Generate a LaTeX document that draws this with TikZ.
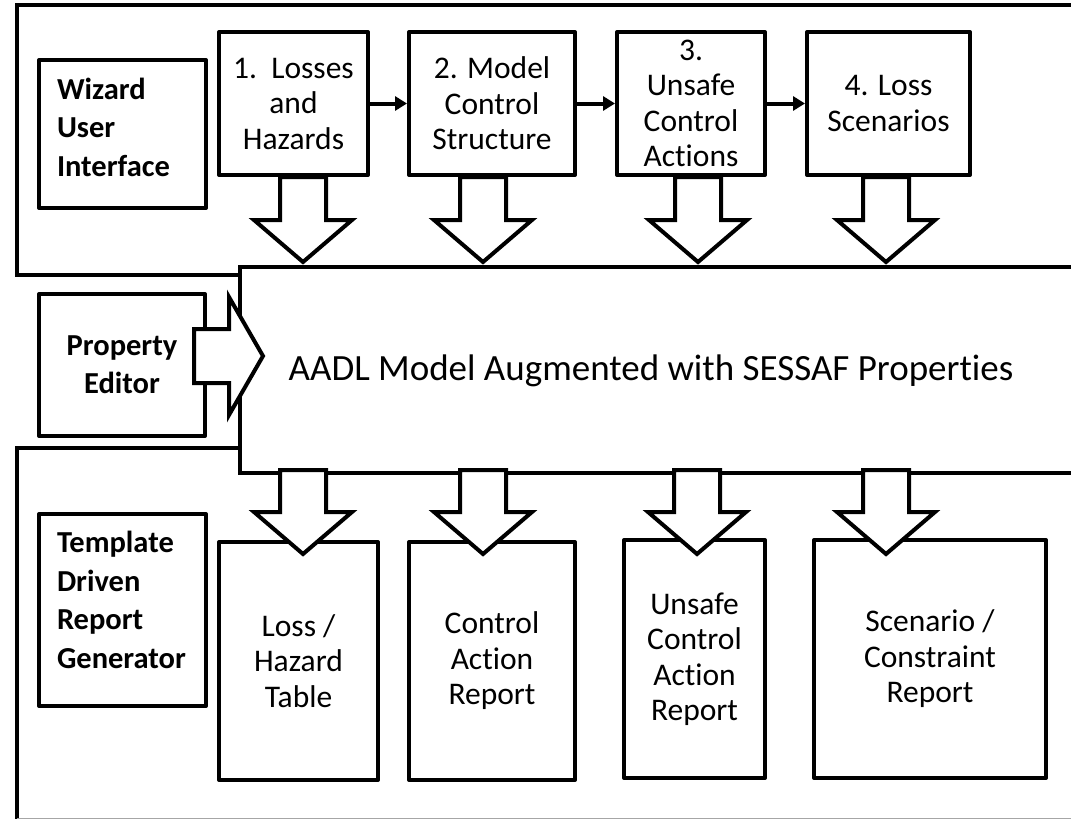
\documentclass[tikz,border=0pt]{standalone}
\usepackage{fontspec}
\setmainfont[Ligatures={NoCommon}]{Carlito}
\usetikzlibrary{arrows.meta,calc}
\newcommand{\blkdn}[2]{%
  \draw[blkarrow] let \p1=(#1), \p2=(#2) in
   (\x2-23pt,\y1) -- (\x2-23pt,\y2+42pt) -- (\x2-49pt,\y2+42pt) -- (\x2,\y2)
   -- (\x2+49pt,\y2+42pt) -- (\x2+23pt,\y2+42pt) -- (\x2+23pt,\y1) -- cycle;}
\begin{document}
\begin{tikzpicture}[x=1pt,y=-1pt,
  frame/.style={draw, line width=4pt, line join=miter},
  box/.style={draw, line width=4pt, fill=white, line join=round, inner sep=0pt,
    align=center, font=\fontsize{31.5}{35.5}\selectfont},
  boldbox/.style={draw, line width=4pt, fill=white, line join=round, inner sep=0pt,
    font=\bfseries\fontsize{30.5}{38}\selectfont},
  boldtxt/.style={inner sep=0pt, font=\bfseries\fontsize{30.5}{38.5}\selectfont},
  blkarrow/.style={draw, line width=4pt, fill=white, line join=miter, miter limit=4},
  flow/.style={line width=4pt, -{Triangle[length=12pt,width=14pt]}}]
\useasboundingbox (0,0) rectangle (1071,819);
\clip (0,0) rectangle (1071,819);
\fill[white] (0,0) rectangle (1071,819);
% frames
\draw[frame] (17,5) rectangle (1100,275);
\draw[frame] (1100,448) -- (17,448) -- (17,830);
\draw[gray!70, line width=1pt] (17,818) -- (1100,818);
% AADL box
\node[draw, line width=4pt, fill=white, minimum width=860pt, minimum height=206pt, inner sep=0pt]
  (aadl) at (670,370) {};
\node[font=\fontsize{37}{42}\selectfont, inner sep=0pt] (aadltxt) at (651,371)
  {AADL Model Augmented with SESSAF Properties};
% left labels
\node[boldbox, minimum width=167pt, minimum height=148pt] (wiz) at (122.5,134) {};
\node[boldtxt, text width=131pt, align=left] (wiztxt) at ($(wiz.center)+(0,-7)$)
  {Wizard\\User\\Interface};
\node[boldbox, minimum width=166pt, minimum height=142pt, align=center]
  (pe) at (122,365) {Property\\Editor};
\node[boldbox, minimum width=167pt, minimum height=192pt] (tdr) at (122.5,610) {};
\node[boldtxt, text width=131pt, align=left] (tdrtxt) at ($(tdr.center)+(0,-10)$)
  {Template\\Driven\\Report\\Generator};
% top steps
\node[box, minimum width=149pt, minimum height=143pt] (b1) at (293.5,103.5) {1.\ \ Losses\\and\\Hazards};
\node[box, minimum width=166pt, minimum height=143pt] (b2) at (492,103.5) {2. Model\\Control\\Structure};
\node[box, minimum width=148pt, minimum height=143pt] (b3) at (691,103.5) {3.\\Unsafe\\Control\\Actions};
\node[box, minimum width=163pt, minimum height=143pt] (b4) at (888.5,103.5) {4. Loss\\Scenarios};
\draw[flow] (b1.east) -- (b2.west);
\draw[flow] (b2.east) -- (b3.west);
\draw[flow] (b3.east) -- (b4.west);
% reports
\node[box, minimum width=159pt, minimum height=238pt] (r1) at (298.5,661) {Loss /\\Hazard\\Table};
\node[box, minimum width=166pt, minimum height=238pt] (r2) at (492,661) {Control\\Action\\Report};
\node[box, minimum width=141pt, minimum height=238pt] (r3) at (694.5,659) {Unsafe\\Control\\Action\\Report};
\node[box, minimum width=232pt, minimum height=238pt] (r4) at (930,659) {Scenario /\\Constraint\\Report};
% block arrows top
\coordinate (t1) at (303,262);
\coordinate (t2) at (483,262);
\coordinate (t3) at (698,262);
\coordinate (t4) at (886,262);
\blkdn{t1 |- b1.south}{t1}
\blkdn{t2 |- b2.south}{t2}
\blkdn{t3 |- b3.south}{t3}
\blkdn{t4 |- b4.south}{t4}
% block arrows bottom
\coordinate (u1) at (303,554);
\coordinate (u2) at (483,554);
\coordinate (u3) at (697,554);
\coordinate (u4) at (886,554);
\coordinate (s1) at (303,470);
\coordinate (s2) at (483,470);
\coordinate (s3) at (697,470);
\coordinate (s4) at (886,470);
\blkdn{s1}{u1}
\blkdn{s2}{u2}
\blkdn{s3}{u3}
\blkdn{s4}{u4}
% property arrow
\coordinate (ptip) at (263,356);
\draw[blkarrow] let \p1=(pe.east), \p2=(ptip) in
  (\x1-13pt,\y2+27pt) -- (\x2-34pt,\y2+27pt) -- (\x2-34pt,\y2+59pt) -- (\x2,\y2)
  -- (\x2-34pt,\y2-59pt) -- (\x2-34pt,\y2-27pt) -- (\x1-13pt,\y2-27pt) -- cycle;
\end{tikzpicture}
\end{document}
